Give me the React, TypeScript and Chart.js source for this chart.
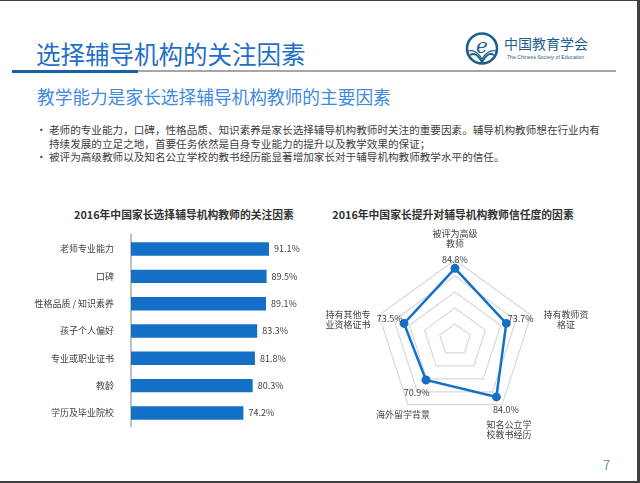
import React, { useEffect, useRef } from "react";
import { Chart, registerables } from "chart.js";

Chart.register(...registerables);

const FONT = '"Noto Sans CJK SC", "Open Sans", sans-serif';

// Bar chart data
const barCategories = ["老师专业能力", "口碑", "性格品质 / 知识素养", "孩子个人偏好", "专业或职业证书", "教龄", "学历及毕业院校"];
const barValues = [91.1, 89.5, 89.1, 83.3, 81.8, 80.3, 74.2];

// Radar chart data (clockwise from top)
const radarLabels = [["被评为高级", "教师"], ["持有教师资", "格证"], ["知名公立学", "校教书经历"], ["海外留学背景"], ["持有其他专", "业资格证书"]];
const radarValues = [84.8, 73.7, 84.0, 70.9, 73.5];
const radarTicks = { min: 40, max: 90, step: 10 };

const BLUE = "#1470c6";
const TEXT = "#404040";

// label offsets (style)
const pointLabelOffsets = [[0, -21], [35, 4], [7, 25], [-5, 9.6], [-31, 4]];
const valueLabelGap = [9, 15, 16, 16, 15];

function BarChart() {
  const ref = useRef<HTMLCanvasElement | null>(null);
  useEffect(() => {
    const labelPlugin = {
      id: "barValues",
      afterDatasetsDraw(chart: any) {
        const ctx = chart.ctx;
        const meta = chart.getDatasetMeta(0);
        ctx.save();
        ctx.font = `9px ${FONT}`;
        ctx.fillStyle = TEXT;
        ctx.textAlign = "left";
        ctx.textBaseline = "middle";
        meta.data.forEach((bar: any, i: number) => {
          ctx.fillText(barValues[i].toFixed(1) + "%", bar.x + 5, bar.y);
        });
        ctx.restore();
      },
    };
    const chart = new Chart(ref.current!, {
      type: "bar",
      data: {
        labels: barCategories,
        datasets: [
          {
            data: barValues,
            backgroundColor: BLUE,
            barPercentage: 0.49,
            categoryPercentage: 1,
          },
        ],
      },
      options: {
        indexAxis: "y",
        animation: false,
        responsive: true,
        maintainAspectRatio: false,
        layout: { padding: { left: 0, right: 37.5, top: 11.5, bottom: 8.5 } },
        plugins: { legend: { display: false }, tooltip: { enabled: false }, title: { display: false } },
        scales: {
          x: { display: false, min: 0, max: 100 },
          y: {
            grid: { display: false },
            border: { display: true, color: "#bfbfbf", width: 2 },
            ticks: { color: TEXT, font: { size: 9, family: FONT }, padding: 9 },
            afterFit: (scale: any) => {
              scale.width = 131;
            },
          },
        },
      },
      plugins: [labelPlugin],
    });
    return () => chart.destroy();
  }, []);
  return (
    <div style={{ position: "absolute", left: 0, top: 220, width: 320, height: 220 }}>
      <canvas ref={ref} />
    </div>
  );
}

function RadarChart() {
  const ref = useRef<HTMLCanvasElement | null>(null);
  useEffect(() => {
    const labelPlugin = {
      id: "radarLabels",
      afterDraw(chart: any) {
        const ctx = chart.ctx;
        const scale = chart.scales.r;
        ctx.save();
        ctx.font = `9px ${FONT}`;
        ctx.fillStyle = TEXT;
        ctx.textAlign = "center";
        ctx.textBaseline = "middle";
        const lh = 10;
        radarLabels.forEach((lines, i) => {
          const p = scale.getPointPosition(i, scale.drawingArea);
          const cx = p.x + pointLabelOffsets[i][0];
          const cy = p.y + pointLabelOffsets[i][1];
          const n = lines.length;
          lines.forEach((ln, j) => {
            ctx.fillText(ln, cx, cy + (j - (n - 1) / 2) * lh);
          });
        });
        radarValues.forEach((v, i) => {
          const r = scale.getDistanceFromCenterForValue(v);
          const p = scale.getPointPosition(i, r + valueLabelGap[i]);
          ctx.fillText(v.toFixed(1) + "%", p.x, p.y);
        });
        ctx.restore();
      },
    };
    const chart = new Chart(ref.current!, {
      type: "radar",
      data: {
        labels: radarLabels.map((l) => l.join("")),
        datasets: [
          {
            data: radarValues,
            borderColor: BLUE,
            backgroundColor: BLUE,
            borderWidth: 2.5,
            pointRadius: 3.2,
            pointBackgroundColor: BLUE,
            pointBorderColor: BLUE,
            fill: false,
          },
        ],
      },
      options: {
        animation: false,
        responsive: true,
        maintainAspectRatio: false,
        layout: { padding: { left: 55, right: 102, top: 64, bottom: 36 } },
        plugins: { legend: { display: false }, tooltip: { enabled: false } },
        scales: {
          r: {
            min: radarTicks.min,
            max: radarTicks.max,
            ticks: { display: false, stepSize: radarTicks.step },
            grid: { color: "#d9d9d9", lineWidth: 1.2 },
            angleLines: { display: false },
            pointLabels: { display: false },
          },
        },
      },
      plugins: [labelPlugin],
    });
    return () => chart.destroy();
  }, []);
  return (
    <div style={{ position: "absolute", left: 320, top: 195, width: 317, height: 260 }}>
      <canvas ref={ref} />
    </div>
  );
}

function Logo() {
  return (
    <svg style={{ position: "absolute", left: 462, top: 28 }} width={130} height={40} viewBox="0 0 130 40">
      <circle cx={20} cy={19.5} r={15} fill="none" stroke="#1d5f8a" strokeWidth={2.6} />
      <text x={20} y={24} textAnchor="middle" fontSize={20} fontStyle="italic" fontFamily="DejaVu Serif, serif" fill="#1d5f8a">e</text>
      <path d="M8 26 Q14 22 20 33 Q26 22 32 26" fill="none" stroke="#1d5f8a" strokeWidth={2} />
      <path d="M6 22 Q14 20 20 30 Q26 20 34 22" fill="none" stroke="#1d5f8a" strokeWidth={1.2} />
      <text x={42} y={20} fontSize={14} fontFamily={FONT} fill="#1d5f8a">中国教育学会</text>
      <text x={45} y={29.5} fontSize={4.8} fontFamily="Liberation Sans, sans-serif" fill="#1d5f8a" textLength={77} lengthAdjust="spacingAndGlyphs">The Chinese Society of Education</text>
    </svg>
  );
}

export default function App() {
  const abs = (style: React.CSSProperties): React.CSSProperties => ({ position: "absolute", whiteSpace: "nowrap", fontFamily: FONT, ...style });
  return (
    <div
      style={{
        position: "absolute",
        left: 0,
        top: 0,
        width: 640,
        height: 483,
        boxSizing: "border-box",
        borderTop: "1px solid #404040",
        borderRight: "3px solid #404040",
        borderBottom: "2px solid #404040",
        background: "#fff",
        overflow: "hidden",
        fontFamily: FONT,
      }}
    >
      <div style={abs({ left: 36, top: 40, fontSize: 24.5, lineHeight: "26px", color: "#1f6fc8" })}>选择辅导机构的关注因素</div>
      <div style={abs({ left: 12, top: 68.5, width: 126, height: 3, background: "#1a5fa8" })} />
      <div style={abs({ left: 138, top: 69, width: 478, height: 2, background: "#a6a6a6" })} />
      <Logo />
      <div style={abs({ left: 37, top: 85, fontSize: 17.7, lineHeight: "20px", color: "#3f8ae0" })}>教学能力是家长选择辅导机构教师的主要因素</div>
      <div style={abs({ left: 36, top: 122, fontSize: 10.6, lineHeight: "13.5px", color: TEXT })}>
        <div style={{ position: "relative", paddingLeft: 13 }}>
          <span style={{ position: "absolute", left: 0 }}>•</span>
          老师的专业能力，口碑，性格品质、知识素养是家长选择辅导机构教师时关注的重要因素。辅导机构教师想在行业内有
          <br />
          持续发展的立足之地，首要任务依然是自身专业能力的提升以及教学效果的保证；
        </div>
        <div style={{ position: "relative", paddingLeft: 13 }}>
          <span style={{ position: "absolute", left: 0 }}>•</span>
          被评为高级教师以及知名公立学校的教书经历能显著增加家长对于辅导机构教师教学水平的信任。
        </div>
      </div>
      <div style={abs({ left: 0, width: 368, top: 206, textAlign: "center", fontSize: 10.8, lineHeight: "14px", fontWeight: 700, color: "#333" })}>
        2016年中国家长选择辅导机构教师的关注因素
      </div>
      <div style={abs({ left: 306, width: 294, top: 206, textAlign: "center", fontSize: 10.8, lineHeight: "14px", fontWeight: 700, color: "#333" })}>
        2016年中国家长提升对辅导机构教师信任度的因素
      </div>
      <BarChart />
      <RadarChart />
      <div style={abs({ left: 603, top: 456, fontSize: 13, lineHeight: "15px", color: "#5b9bd5" })}>7</div>
    </div>
  );
}
